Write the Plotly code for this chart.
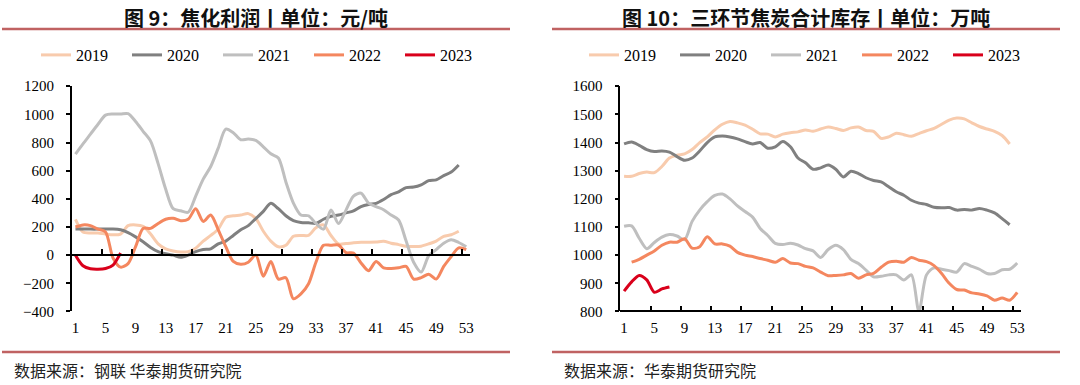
import plotly.graph_objects as go

weeks = list(range(1, 54))
tick_labels = [str(k) for k in range(1, 54, 4)]
years = ["2019", "2020", "2021", "2022", "2023"]
colors = ["#F8CBAD", "#808080", "#BFBFBF", "#F4875F", "#D9001B"]

# 图9 焦化利润（元/吨）
profit_2019 = [255, 165, 158, 158, 150, 145, 150, 210, 215, 205, 150, 80, 45, 30, 22, 25, 50, 100, 140, 185,
               270, 280, 285, 295, 260, 170, 100, 60, 70, 134, 140, 140, 195, 215, 140, 80, 82, 88, 92, 92,
               93, 99, 85, 75, 64, 62, 64, 80, 100, 134, 145, 170]
profit_2020 = [185, 185, 185, 185, 186, 186, 180, 160, 130, 95, 55, 25, 10, 0, -15, 0, 25, 40, 45, 80,
               100, 140, 180, 210, 260, 311, 368, 330, 280, 245, 232, 230, 225, 255, 276, 285, 300, 315, 345, 360,
               368, 395, 430, 450, 480, 484, 500, 529, 535, 565, 590, 640]
profit_2021 = [717, 790, 860, 930, 995, 1003, 1003, 1005, 950, 880, 810, 650, 470, 330, 315, 305, 420, 540, 630, 760,
               895, 870, 820, 825, 815, 770, 720, 690, 520, 370, 285, 280, 225, 185, 320, 225, 320, 420, 440, 370,
               345, 323, 285, 250, 100, -50, -120, -5, 40, 85, 110, 90, 60]
profit_2022 = [200, 215, 210, 185, 165, -20, -85, -60, 60, 190, 190, 225, 255, 262, 245, 255, 330, 240, 285, 180,
               60, -45, -65, -50, 0, -149, -45, -170, -160, -310, -275, -205, -50, 70, 70, 72, 18, 15, -55, -110,
               -45, -90, -95, -90, -80, -170, -160, -135, -170, -80, -10, 52, 40]
profit_2023 = [0, -75, -97, -100, -95, -70, 15]

# 图10 三环节焦炭合计库存（万吨）
stock_2019 = [1280, 1280, 1290, 1295, 1293, 1315, 1345, 1355, 1360, 1375, 1400, 1420, 1445, 1465, 1475, 1470, 1462, 1447, 1431, 1430,
              1420, 1430, 1435, 1438, 1445, 1440, 1448, 1455, 1450, 1443, 1452, 1455, 1443, 1440, 1415, 1420, 1433, 1428, 1422, 1432,
              1442, 1450, 1465, 1480, 1487, 1484, 1470, 1457, 1448, 1440, 1425, 1395]
stock_2020 = [1395, 1402, 1390, 1375, 1368, 1370, 1366, 1350, 1337, 1345, 1370, 1400, 1420, 1423, 1420, 1413, 1403, 1395, 1400, 1380,
              1385, 1404, 1385, 1345, 1328, 1305, 1310, 1320, 1305, 1278, 1298, 1290, 1275, 1265, 1260, 1243, 1225, 1213, 1195, 1185,
              1180, 1170, 1168, 1169, 1160, 1162, 1160, 1166, 1160, 1150, 1130, 1108]
stock_2021 = [1103, 1104, 1060, 1023, 1045, 1064, 1073, 1068, 1055, 1120, 1160, 1190, 1212, 1217, 1200, 1175, 1155, 1135, 1095, 1070,
              1042, 1038, 1042, 1036, 1023, 1015, 992, 1020, 1035, 1020, 985, 970, 947, 923, 925, 930, 930, 912, 930, 800,
              930, 955, 950, 945, 940, 970, 960, 950, 935, 935, 948, 950, 972]
stock_2022 = [None, 975, 985, 1000, 1015, 1035, 1046, 1046, 1058, 1025, 1030, 1065, 1040, 1040, 1032, 1010, 1000, 995, 988, 982,
              975, 988, 972, 970, 960, 955, 940, 927, 928, 930, 935, 918, 930, 935, 957, 975, 978, 975, 992, 982,
              977, 963, 935, 900, 878, 876, 866, 862, 855, 840, 848, 840, 868]
stock_2023 = [872, 905, 928, 912, 868, 880, 887]

profit = [profit_2019, profit_2020, profit_2021, profit_2022, profit_2023]
stock = [stock_2019, stock_2020, stock_2021, stock_2022, stock_2023]

SERIF = "Liberation Serif, Times New Roman, serif"
CJK = "Noto Sans CJK SC"

fig = go.Figure()
for yr, c, vals in zip(years, colors, profit):
    fig.add_trace(go.Scatter(x=weeks[:len(vals)], y=vals, name=yr, mode="lines",
                             line=dict(color=c, width=3, shape="spline", smoothing=0.8),
                             xaxis="x", yaxis="y", legend="legend"))
for yr, c, vals in zip(years, colors, stock):
    fig.add_trace(go.Scatter(x=weeks[:len(vals)], y=vals, name=yr, mode="lines",
                             line=dict(color=c, width=3, shape="spline", smoothing=0.8),
                             xaxis="x2", yaxis="y2", legend="legend2"))
# empty carriers so the tick-only overlay axes get drawn
for xa, ya in (("x3", "y"), ("x4", "y2")):
    fig.add_trace(go.Scatter(x=[None], y=[None], mode="lines", xaxis=xa, yaxis=ya,
                             showlegend=False, hoverinfo="skip"))

yd = [0.191, 0.776]
xd1 = [71.7 / 1080, 470 / 1080]
xd2 = [620.3 / 1080, 1021 / 1080]
xr = [0.5, 53.5]
label_vals = list(range(1, 54, 4))
tick_vals = [k + 0.5 for k in range(4, 53, 4)]
tickfont = dict(family=SERIF, size=15, color="black")

common_label_x = dict(range=xr, tickmode="array", tickvals=label_vals, ticktext=tick_labels,
                      ticks="", showline=False, showgrid=False, zeroline=False,
                      tickfont=tickfont, ticklabelstandoff=6, automargin=False)
common_tick_x = dict(range=xr, tickmode="array", tickvals=tick_vals, ticks="inside", ticklen=5,
                     tickwidth=1.5, tickcolor="black", showline=True, linecolor="black", linewidth=1.5,
                     showticklabels=False, showgrid=False, zeroline=False, automargin=False)
common_y = dict(ticks="outside", ticklen=4, tickwidth=1.5, tickcolor="black", showline=True,
                linecolor="black", linewidth=1.5, showgrid=False, zeroline=False, tickfont=tickfont,
                ticklabelstandoff=9, automargin=False)

y0_pos = yd[0] + (0 - (-400)) / 1600 * (yd[1] - yd[0])

fig.update_layout(
    width=1080, height=385, margin=dict(l=0, r=0, t=0, b=0, autoexpand=False),
    paper_bgcolor="white", plot_bgcolor="white",
    xaxis=dict(domain=xd1, anchor="y", **common_label_x),
    yaxis=dict(domain=yd, anchor="x", range=[-400, 1200], tickvals=list(range(-400, 1201, 200)), **common_y),
    xaxis2=dict(domain=xd2, anchor="y2", **common_label_x),
    yaxis2=dict(domain=yd, anchor="x2", range=[800, 1600], tickvals=list(range(800, 1601, 100)), **common_y),
    xaxis3=dict(overlaying="x", anchor="free", position=y0_pos, domain=xd1, **common_tick_x),
    xaxis4=dict(overlaying="x2", anchor="free", position=yd[0], domain=xd2, **common_tick_x),
    legend=dict(orientation="h", x=36 / 1080, xanchor="left", y=1 - 55 / 385, yanchor="middle",
                entrywidth=46, entrywidthmode="pixels", font=dict(family=SERIF, size=16, color="black"),
                bgcolor="rgba(0,0,0,0)"),
    legend2=dict(orientation="h", x=584 / 1080, xanchor="left", y=1 - 55 / 385, yanchor="middle",
                 entrywidth=46, entrywidthmode="pixels", font=dict(family=SERIF, size=16, color="black"),
                 bgcolor="rgba(0,0,0,0)"),
    showlegend=True,
)

title_font = dict(family=CJK, size=20, color="#111111", weight="bold")
fig.add_annotation(text="图 9：焦化利润丨单位：元/吨", x=256 / 1080, y=1 - 17 / 385, xref="paper", yref="paper",
                   showarrow=False, font=title_font, xanchor="center", yanchor="middle")
fig.add_annotation(text="图 10：三环节焦炭合计库存丨单位：万吨", x=806 / 1080, y=1 - 17 / 385, xref="paper", yref="paper",
                   showarrow=False, font=title_font, xanchor="center", yanchor="middle")
src_font = dict(family=CJK, size=16, color="#222222")
fig.add_annotation(text="数据来源：钢联 华泰期货研究院", x=12 / 1080, y=1 - 370 / 385, xref="paper", yref="paper",
                   showarrow=False, font=src_font, xanchor="left", yanchor="middle")
fig.add_annotation(text="数据来源：华泰期货研究院", x=562 / 1080, y=1 - 370 / 385, xref="paper", yref="paper",
                   showarrow=False, font=src_font, xanchor="left", yanchor="middle")

red = "#C06262"
for (a, b) in [(2, 510), (552, 1060)]:
    for yy in (29, 352):
        fig.add_shape(type="line", x0=a / 1080, x1=b / 1080, y0=1 - yy / 385, y1=1 - yy / 385,
                      xref="paper", yref="paper", line=dict(color=red, width=2.5))

fig.write_html("out.html", config={"displayModeBar": False},
               post_script="document.body.style.margin='0';document.body.style.padding='0';")
